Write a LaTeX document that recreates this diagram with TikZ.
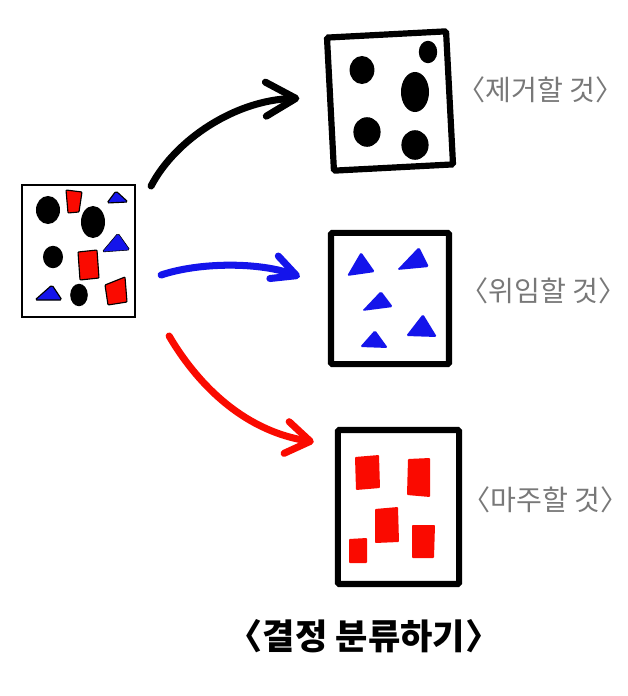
\documentclass[tikz,border=0pt]{standalone}
\usepackage{fontspec}
\newfontfamily\kofont{Noto Sans CJK KR}
\usepackage{tikz}
\usetikzlibrary{arrows.meta, positioning}
\definecolor{PenRed}{RGB}{250, 10, 0}
\definecolor{PenBlue}{RGB}{20, 20, 235}
\definecolor{PenGray}{RGB}{120, 120, 120}
\tikzset{
  pile/.style={rectangle, draw=black, line width=1.4pt, fill=white,
               minimum width=2.83cm, minimum height=3.3cm, inner sep=0pt},
  bin/.style={rectangle, draw=black, line width=4.4pt, fill=white,
              rounded corners=1pt, inner sep=0pt},
  stroke/.style={line width=5pt, line cap=round, line join=round, draw=#1},
  note/.style={font=\kofont\fontsize{20}{20}\selectfont, text=PenGray, inner sep=0pt},
  dot/.style={fill=black},
  tri/.style={fill=PenBlue, rounded corners=1.2pt},
  card/.style={fill=PenRed, rounded corners=0.6pt},
}

\begin{document}
\begin{tikzpicture}[x=0.025cm, y=-0.025cm]
      \useasboundingbox (0,0) rectangle (627,696);

      % mixed pile on the left
      \node[pile] (src) at (78.5,251) {};
      \fill[dot] (48,210) ellipse [x radius=0.3cm, y radius=0.35cm];
      \fill[dot] (93,222) ellipse [x radius=0.3cm, y radius=0.4cm];
      \fill[dot] (53,257) ellipse [x radius=0.25cm, y radius=0.28cm];
      \fill[dot] (79,295) ellipse [x radius=0.22cm, y radius=0.28cm];
      \filldraw[card, draw=black, line width=0.8pt] (66,190) -- (82,192) -- (79,212) -- (68,213) -- cycle;
      \filldraw[card, draw=black, line width=0.8pt] (78,252) -- (97,250) -- (99,278) -- (80,280) -- cycle;
      \filldraw[card, draw=black, line width=0.8pt] (105,285) -- (125,277) -- (127,302) -- (108,305) -- cycle;
      \filldraw[tri, draw=black, line width=0.8pt] (107,203) -- (116,191) -- (128,202) -- cycle;
      \filldraw[tri] (102,252) -- (118,233) -- (130,250) -- cycle;
      \filldraw[tri, draw=black, line width=0.8pt] (35,300) -- (52,285) -- (62,300) -- cycle;

      % three sorted bins
      \node[bin, minimum width=2.98cm, minimum height=3.33cm, rotate=3] (elim) at (390,101) {};
      \node[bin, minimum width=2.95cm, minimum height=3.28cm] (deleg) at (390,298.5) {};
      \node[bin, minimum width=3.03cm, minimum height=3.85cm] (face) at (398.5,507) {};

      \fill[dot] (428,52) ellipse [x radius=0.23cm, y radius=0.28cm];
      \fill[dot] (362,70) ellipse [x radius=0.31cm, y radius=0.35cm];
      \fill[dot] (415,92) ellipse [x radius=0.35cm, y radius=0.5cm];
      \fill[dot] (367,132) ellipse [x radius=0.34cm, y radius=0.37cm];
      \fill[dot] (415,145) ellipse [x radius=0.34cm, y radius=0.37cm];

      \fill[tri] (347,276) -- (361,252) -- (375,272) -- cycle;
      \fill[tri] (397,270) -- (419,247) -- (429,267) -- cycle;
      \fill[tri] (362,311) -- (381,291) -- (393,307) -- cycle;
      \fill[tri] (406,336) -- (423,314) -- (437,337) -- cycle;
      \fill[tri] (360,347) -- (375,330) -- (388,348) -- cycle;

      \fill[card] (355,457) -- (379,455) -- (380,488) -- (356,490) -- cycle;
      \fill[card] (408,459) -- (430,458) -- (430,497) -- (407,495) -- cycle;
      \fill[card] (375,509) -- (398,507) -- (399,542) -- (375,543) -- cycle;
      \fill[card] (412,525) -- (435,525) -- (434,558) -- (412,558) -- cycle;
      \fill[card] (349,539) -- (367,538) -- (367,563) -- (349,563) -- cycle;

      % labels
      \node[note, right=0.12cm of elim, yshift=0.2cm] (elimtxt) {〈제거할 것〉};
      \node[note, right=0.2cm of deleg, yshift=0.2cm] (delegtxt) {〈위임할 것〉};
      \node[note, right=0cm of face, yshift=0.18cm] (facetxt) {〈마주할 것〉};
      \node[font=\kofont\bfseries\fontsize{25}{25}\selectfont, inner sep=0pt] (title) at (364,636) {〈결정 분류하기〉};

      % sorting strokes
      \draw[stroke=black, -{Straight Barb[round, length=0.75cm, width=0.85cm]}]
        ([xshift=0.375cm, yshift=-0.05cm]src.north east) .. controls (175,140) and (235,100) .. ([xshift=-0.7cm, yshift=0.15cm]elim.west);
      \draw[stroke=PenBlue, -{Straight Barb[round, length=0.6cm, width=0.6cm]}]
        ([xshift=0.625cm, yshift=-0.6cm]src.east) .. controls (200,262) and (260,262) .. ([xshift=-0.7cm, yshift=0.54cm]deleg.west);
      \draw[stroke=PenRed, -{Straight Barb[round, length=0.6cm, width=0.8cm]}]
        ([xshift=0.825cm, yshift=-0.45cm]src.south east) .. controls (195,380) and (240,430) .. ([xshift=-0.525cm, yshift=-0.375cm]face.north west);
    \end{tikzpicture}
\end{document}
